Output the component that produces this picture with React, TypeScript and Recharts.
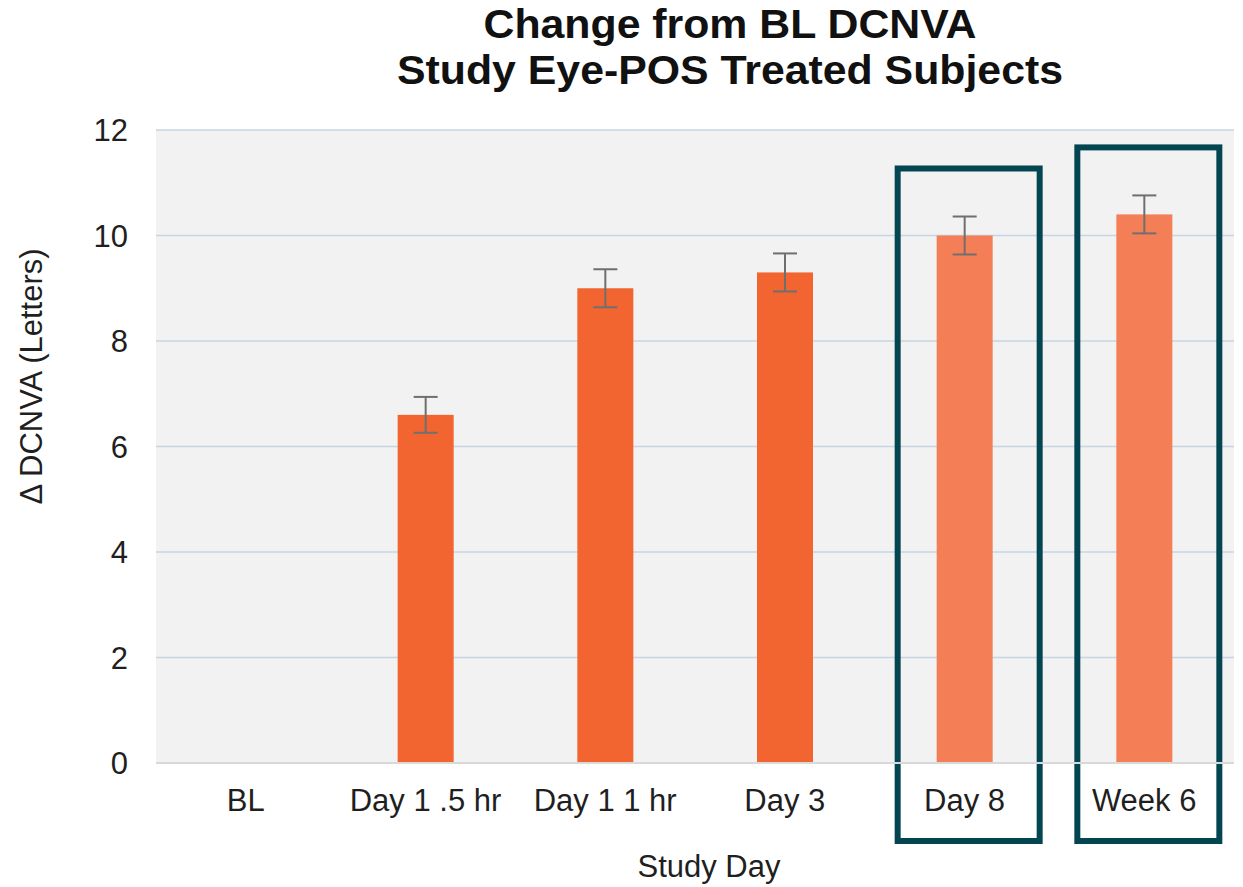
import { Bar, BarChart, CartesianGrid, Cell, ErrorBar, Label, XAxis, YAxis } from "recharts";

const categories = ["BL", "Day 1 .5 hr", "Day 1 1 hr", "Day 3", "Day 8", "Week 6"];
const meanChange = [0, 6.6, 9.0, 9.3, 10.0, 10.4];
const errors = [0, 0.34, 0.36, 0.36, 0.36, 0.36];
const highlighted = ["Day 8", "Week 6"];
const yTicks = [0, 2, 4, 6, 8, 10, 12];

const data = categories.map((name, i) => ({ name, value: meanChange[i], err: errors[i] }));

const FONT = "'Liberation Sans', Arial, sans-serif";
const TEXT = "#1f1f1f";

function BarWithBox(props: any) {
  const { x, y, width, height, fill, payload } = props;
  const base = y + height;
  return (
    <g>
      <rect x={x} y={y} width={width} height={height} fill={fill} />
      {highlighted.includes(payload.name) && (
        <rect x={x - 39} y={y - 67} width={width + 86} height={base - y + 67 + 78} fill="none" stroke="#034651" strokeWidth={6} />
      )}
    </g>
  );
}

export default function App() {
  return (
    <div style={{ position: "absolute", left: 0, top: 0, width: 1243, height: 887, background: "#fff", fontFamily: FONT }}>
      <div style={{ position: "absolute", left: 230, width: 1000, top: 1, textAlign: "center", fontSize: 40, fontWeight: "bold", lineHeight: "46px", color: "#111", transform: "scaleX(1.07)", transformOrigin: "500px 0" }}>
        Change from BL DCNVA
        <br />
        Study Eye-POS Treated Subjects
      </div>
      <BarChart width={1243} height={887} data={data} margin={{ top: 130, right: 9, bottom: 84, left: 76 }}>
        <CartesianGrid vertical={false} fill="#f2f2f2" stroke="#c7d4e1" strokeWidth={1.5} />
        <XAxis dataKey="name" axisLine={{ stroke: "#d9d9d9", strokeWidth: 2 }} tickLine={false} height={40} tickMargin={20}
          tick={{ fontSize: 31, fill: TEXT, fontFamily: FONT }}>
          <Label value="Study Day" position="bottom" offset={52} dx={14} style={{ fontSize: 31, fill: TEXT, fontFamily: FONT }} />
        </XAxis>
        <YAxis domain={[0, 12]} ticks={yTicks} axisLine={false} tickLine={false} width={80} tickMargin={22}
          tick={{ fontSize: 31, fill: TEXT, fontFamily: FONT }}>
          <Label
            content={(p: any) => {
              const vb = p.viewBox;
              const cx = vb.x - 45;
              const cy = vb.y + vb.height / 2 - 70;
              return (
                <text transform={`translate(${cx} ${cy}) rotate(-90)`} textAnchor="middle" dominantBaseline="central"
                  style={{ fontSize: 31, fill: TEXT, fontFamily: FONT }}>
                  Δ DCNVA (Letters)
                </text>
              );
            }}
          />
        </YAxis>
        <Bar dataKey="value" barSize={56} isAnimationActive={false} shape={BarWithBox}>
          {data.map((d) => (
            <Cell key={d.name} fill={highlighted.includes(d.name) ? "#f47f56" : "#f26531"} />
          ))}
          <ErrorBar dataKey="err" width={12} stroke="#6f6f6f" strokeWidth={2} isAnimationActive={false} />
        </Bar>
      </BarChart>
    </div>
  );
}
